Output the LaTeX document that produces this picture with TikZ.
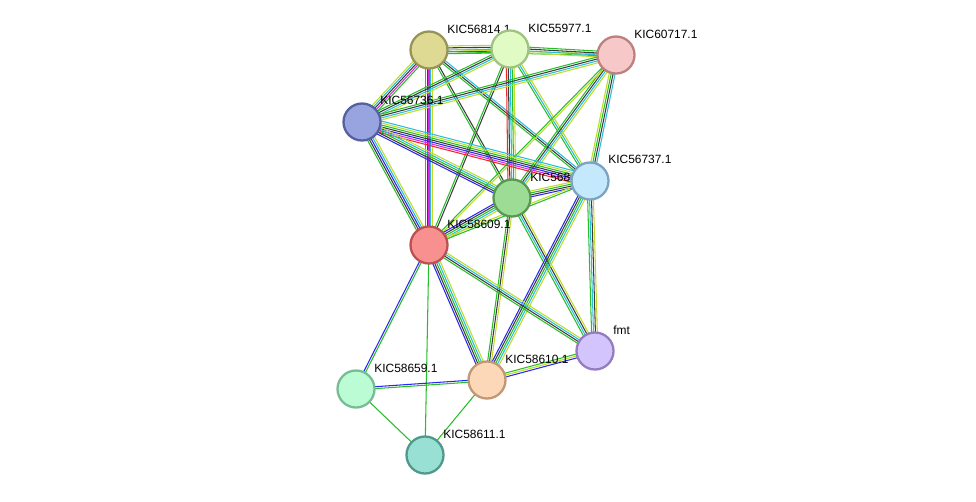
\documentclass[tikz,border=0pt]{standalone}
\usepackage{fontspec}
\setmainfont{Liberation Sans}
\usetikzlibrary{calc}
\definecolor{cG}{RGB}{40,190,40}
\definecolor{cK}{RGB}{60,60,60}
\definecolor{cC}{RGB}{40,190,220}
\definecolor{cB}{RGB}{40,40,240}
\definecolor{cY}{RGB}{190,220,40}
\definecolor{cR}{RGB}{240,40,40}
\definecolor{cM}{RGB}{220,40,220}
% draw a bundle of parallel coloured lines between two nodes
\newcommand{\bundle}[3]{%
  \foreach \col [count=\i] in {#3} {\global\let\nb\i}%
  \foreach \col [count=\i] in {#3} {%
    \pgfmathsetmacro{\off}{(\i-(\nb+1)/2)*1.1}%
    \draw[evidence, draw=\col] ($(#1)!\off pt!90:(#2)$) -- ($(#2)!\off pt!-90:(#1)$);
  }}
\begin{document}
\begin{tikzpicture}[x=0.02cm, y=-0.02cm,
    evidence/.style={line width=0.6pt},
    prot/.style={circle, minimum size=0.74cm, line width=1.3pt, inner sep=0pt},
    plabel/.style={anchor=west, font=\fontsize{6.8}{8}\selectfont, inner sep=0pt}]
  \useasboundingbox[fill=white] (0,0) rectangle (976,501);
  % proteins (coordinates only, nodes drawn later)
  \coordinate (a) at (429,50);   % KIC56814.1
  \coordinate (b) at (510,49);   % KIC55977.1
  \coordinate (c) at (616,55);   % KIC60717.1
  \coordinate (d) at (362,122);  % KIC56736.1
  \coordinate (e) at (590,181);  % KIC56737.1
  \coordinate (f) at (512,198);  % KIC568
  \coordinate (g) at (429,245);  % KIC58609.1
  \coordinate (h) at (595,351);  % fmt
  \coordinate (i) at (487,380);  % KIC58610.1
  \coordinate (j) at (356,389);  % KIC58659.1
  \coordinate (k) at (425,455);  % KIC58611.1
  % edges
  \bundle{a}{b}{cG,cK,cC,cK,cY}
  \bundle{a}{c}{cG,cY}
  \bundle{b}{c}{cY,cC,cK,cG}
  \bundle{a}{d}{cY,cC,cK,cM,cG}
  \bundle{a}{g}{cG,cK,cM,cC,cY}
  \bundle{a}{f}{cG,cK}
  \bundle{a}{e}{cG,cK,cC}
  \bundle{b}{d}{cG,cK,cC,cY}
  \bundle{b}{g}{cG,cK}
  \bundle{b}{f}{cR,cK,cC,cG,cY}
  \bundle{b}{e}{cG,cC,cY}
  \bundle{c}{d}{cG,cK,cC,cY}
  \bundle{c}{f}{cG,cK,cC,cY}
  \bundle{c}{e}{cY,cG,cK,cC}
  \bundle{c}{g}{cG,cY}
  \bundle{d}{e}{cR,cM,cB,cK,cG,cY,cC}
  \bundle{d}{f}{cB,cK,cG,cC,cY}
  \bundle{d}{g}{cG,cK,cB,cC,cY}
  \bundle{f}{e}{cB,cK,cG,cY}
  \bundle{f}{g}{cB,cK,cG,cC,cY}
  \bundle{f}{i}{cG,cK,cY}
  \bundle{f}{h}{cG,cC,cK,cY}
  \bundle{e}{g}{cY,cG}
  \bundle{e}{i}{cB,cK,cG,cC,cY}
  \bundle{e}{h}{cG,cC,cK,cY}
  \bundle{g}{i}{cB,cK,cG,cC,cY}
  \bundle{g}{h}{cG,cK,cC,cY}
  \bundle{g}{j}{cB,cG}
  \bundle{g}{k}{cG}
  \bundle{i}{j}{cB,cG}
  \bundle{i}{h}{cB,cY,cG}
  \bundle{i}{k}{cG}
  \bundle{j}{k}{cG}
  % labels
  \node[plabel] (la) at (447,29) {KIC56814.1};
  \node[plabel] (lb) at (528,28) {KIC55977.1};
  \node[plabel] (lc) at (634,34) {KIC60717.1};
  \node[plabel] (ld) at (380,100) {KIC56736.1};
  \node[plabel] (le) at (608,159) {KIC56737.1};
  \node[plabel] (lf) at (530,177) {KIC568};
  \node[plabel] (lg) at (447,224) {KIC58609.1};
  \node[plabel] (lh) at (613,330) {fmt};
  \node[plabel] (li) at (505,359) {KIC58610.1};
  \node[plabel] (lj) at (374,368) {KIC58659.1};
  \node[plabel] (lk) at (443,434) {KIC58611.1};
  % nodes
  \node[prot, fill={rgb,255:red,222;green,218;blue,148}, draw={rgb,255:red,152;green,148;blue,88}] (na) at (a) {};
  \node[prot, fill={rgb,255:red,224;green,252;blue,196}, draw={rgb,255:red,160;green,196;blue,128}] (nb) at (b) {};
  \node[prot, fill={rgb,255:red,246;green,200;blue,200}, draw={rgb,255:red,188;green,128;blue,128}] (nc) at (c) {};
  \node[prot, fill={rgb,255:red,152;green,164;blue,224}, draw={rgb,255:red,84;green,96;blue,160}] (nd) at (d) {};
  \node[prot, fill={rgb,255:red,196;green,232;blue,252}, draw={rgb,255:red,124;green,164;blue,192}] (ne) at (e) {};
  \node[prot, fill={rgb,255:red,156;green,220;blue,148}, draw={rgb,255:red,88;green,152;blue,80}] (nf) at (f) {};
  \node[prot, fill={rgb,255:red,248;green,144;blue,144}, draw={rgb,255:red,188;green,80;blue,80}] (ng) at (g) {};
  \node[prot, fill={rgb,255:red,212;green,196;blue,252}, draw={rgb,255:red,148;green,124;blue,192}] (nh) at (h) {};
  \node[prot, fill={rgb,255:red,252;green,216;blue,184}, draw={rgb,255:red,192;green,152;blue,116}] (ni) at (i) {};
  \node[prot, fill={rgb,255:red,188;green,252;blue,212}, draw={rgb,255:red,120;green,188;blue,148}] (nj) at (j) {};
  \node[prot, fill={rgb,255:red,152;green,224;blue,212}, draw={rgb,255:red,80;green,152;blue,140}] (nk) at (k) {};
\end{tikzpicture}
\end{document}
